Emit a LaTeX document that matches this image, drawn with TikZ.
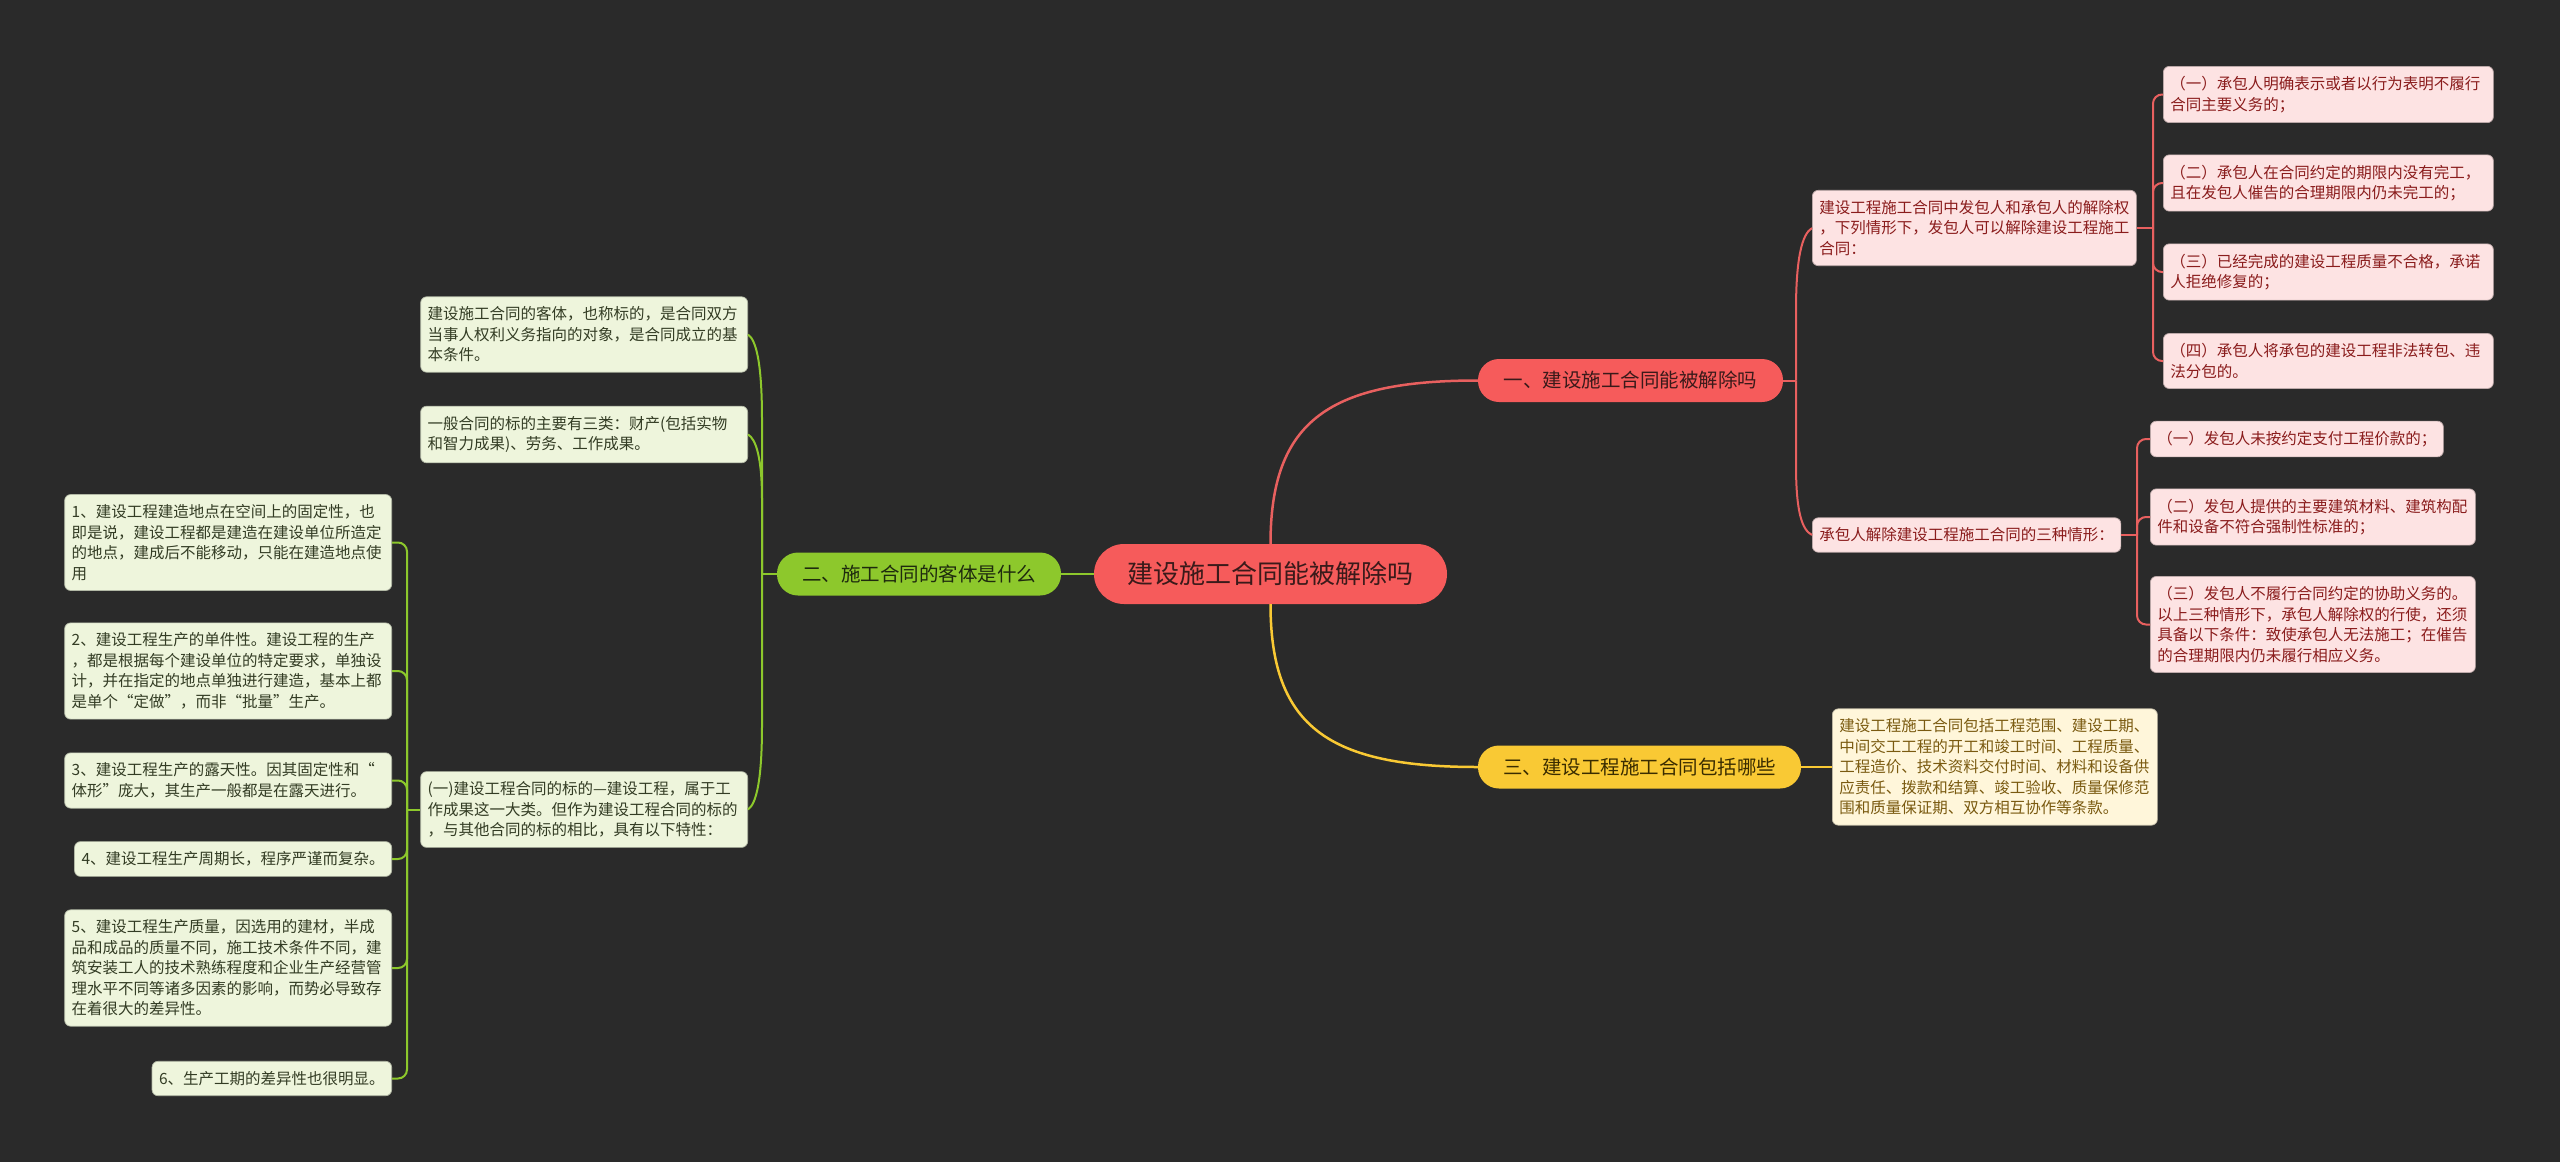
\documentclass[tikz,border=0pt]{standalone}
\usepackage{fontspec}
\setmainfont{Noto Sans CJK SC}
\definecolor{bgc}{HTML}{2A2A2A}
\definecolor{redc}{HTML}{F65B5B}
\definecolor{redtxt}{HTML}{3A1A1A}
\definecolor{grnc}{HTML}{8DC82C}
\definecolor{grntxt}{HTML}{1E2A0E}
\definecolor{yelc}{HTML}{F9C934}
\definecolor{yeltxt}{HTML}{3A2C00}
\definecolor{pinkfill}{HTML}{FDE3E3}
\definecolor{pinktxt}{HTML}{8A1C1C}
\definecolor{pinkline}{HTML}{E8605F}
\definecolor{lgfill}{HTML}{EEF5DC}
\definecolor{lgtxt}{HTML}{333C24}
\definecolor{lyfill}{HTML}{FFF6DA}
\definecolor{lytxt}{HTML}{7A5A10}
\tikzset{
  rootnode/.style={fill=redc, text=redtxt, rounded corners=30pt, minimum width=353pt, minimum height=60pt, inner sep=0pt, font=\fontsize{26}{30}\selectfont},
  brbase/.style={rounded corners=21pt, minimum height=43pt, inner sep=0pt, font=\fontsize{19.5}{24}\selectfont},
  brred/.style={brbase, fill=redc, text=redtxt},
  bryel/.style={brbase, fill=yelc, text=yeltxt},
  brgrn/.style={brbase, fill=grnc, text=grntxt},
  leafbase/.style={rounded corners=6pt, inner xsep=7pt, inner ysep=10pt, align=left, font=\fontsize{15.5}{20.5}\selectfont},
  leafred/.style={leafbase, fill=pinkfill, text=pinktxt, draw=pinkfill!75!black, line width=0.7pt},
  leafgrn/.style={leafbase, fill=lgfill, text=lgtxt, draw=lgfill!75!black, line width=0.7pt},
  leafyel/.style={leafbase, fill=lyfill, text=lytxt, draw=lyfill!75!black, line width=0.7pt},
  lnred/.style={draw=pinkline, line width=2pt},
  lngrn/.style={draw=grnc, line width=2pt},
  lnyel/.style={draw=yelc, line width=2pt}
}
\begin{document}
\begin{tikzpicture}[x=1pt,y=-1pt]
\fill[bgc] (0,0) rectangle (2560,1162);
\useasboundingbox (0,0) rectangle (2560,1162);

% root and branches
\node[rootnode] (root) at (1270.5,574) {建设施工合同能被解除吗};
\node[brred, minimum width=305pt] (b1) at (1630.5,380.5) {一、建设施工合同能被解除吗};
\node[bryel, minimum width=323pt] (b3) at (1639.5,767) {三、建设工程施工合同包括哪些};
\node[brgrn, minimum width=284pt] (b2) at (919,574) {二、施工合同的客体是什么};

% right red leaves
\node[leafred, text width=310pt, anchor=west] (A) at (1812,228) {建设工程施工合同中发包人和承包人的解除权\\，下列情形下，发包人可以解除建设工程施工\\合同：};
\node[leafred, anchor=west] (B) at (1812,535) {承包人解除建设工程施工合同的三种情形：};
\node[leafred, text width=316pt, anchor=west] (A1) at (2163,94.5) {（一）承包人明确表示或者以行为表明不履行\\合同主要义务的；};
\node[leafred, text width=316pt, anchor=west] (A2) at (2163,183) {（二）承包人在合同约定的期限内没有完工，\\且在发包人催告的合理期限内仍未完工的；};
\node[leafred, text width=316pt, anchor=west] (A3) at (2163,272) {（三）已经完成的建设工程质量不合格，承诺\\人拒绝修复的；};
\node[leafred, text width=316pt, anchor=west] (A4) at (2163,361) {（四）承包人将承包的建设工程非法转包、违\\法分包的。};
\node[leafred, anchor=west] (B1) at (2150,439) {（一）发包人未按约定支付工程价款的；};
\node[leafred, text width=311pt, anchor=west] (B2) at (2150,517) {（二）发包人提供的主要建筑材料、建筑构配\\件和设备不符合强制性标准的；};
\node[leafred, text width=311pt, anchor=west] (B3) at (2150,624.5) {（三）发包人不履行合同约定的协助义务的。\\以上三种情形下，承包人解除权的行使，还须\\具备以下条件：致使承包人无法施工；在催告\\的合理期限内仍未履行相应义务。};

% yellow leaf
\node[leafyel, text width=311pt, anchor=west] (C) at (1832,767) {建设工程施工合同包括工程范围、建设工期、\\中间交工工程的开工和竣工时间、工程质量、\\工程造价、技术资料交付时间、材料和设备供\\应责任、拨款和结算、竣工验收、质量保修范\\围和质量保证期、双方相互协作等条款。};

% green leaves
\node[leafgrn, text width=313pt, anchor=east] (L1) at (748,334.5) {建设施工合同的客体，也称标的，是合同双方\\当事人权利义务指向的对象，是合同成立的基\\本条件。};
\node[leafgrn, text width=313pt, anchor=east] (L2) at (748,434.5) {一般合同的标的主要有三类：财产(包括实物\\和智力成果)、劳务、工作成果。};
\node[leafgrn, text width=313pt, anchor=east] (L3) at (748,809.5) {(一)建设工程合同的标的—建设工程，属于工\\作成果这一大类。但作为建设工程合同的标的\\，与其他合同的标的相比，具有以下特性：};
\node[leafgrn, text width=313pt, anchor=east] (K1) at (392,542.5) {1、建设工程建造地点在空间上的固定性，也\\即是说，建设工程都是建造在建设单位所造定\\的地点，建成后不能移动，只能在建造地点使\\用};
\node[leafgrn, text width=313pt, anchor=east] (K2) at (392,671) {2、建设工程生产的单件性。建设工程的生产\\，都是根据每个建设单位的特定要求，单独设\\计，并在指定的地点单独进行建造，基本上都\\是单个“定做”，而非“批量”生产。};
\node[leafgrn, text width=313pt, anchor=east] (K3) at (392,780.5) {3、建设工程生产的露天性。因其固定性和“\\体形”庞大，其生产一般都是在露天进行。};
\node[leafgrn, anchor=east] (K4) at (392,859) {4、建设工程生产周期长，程序严谨而复杂。};
\node[leafgrn, text width=313pt, anchor=east] (K5) at (392,968) {5、建设工程生产质量，因选用的建材，半成\\品和成品的质量不同，施工技术条件不同，建\\筑安装工人的技术熟练程度和企业生产经营管\\理水平不同等诸多因素的影响，而势必导致存\\在着很大的差异性。};
\node[leafgrn, anchor=east] (K6) at (392,1078.5) {6、生产工期的差异性也很明显。};

% main connectors
\draw[lnred, line width=2.5pt] (root.north) .. controls (1270.5,420) and (1330,380.5) .. (b1.west);
\draw[lnyel, line width=2.5pt] (root.south) .. controls (1270.5,728) and (1330,767) .. (b3.west);
\draw[lngrn, line width=2.5pt] (root.west) -- (b2.east);

% red branch brackets
\coordinate (j1) at (1796,380.5);
\draw[lnred] (b1.east) -- (j1);
\draw[lnred] (j1) -- (1796,310) .. controls (1796,258) and (1802,234) .. (A.west);
\draw[lnred] (j1) -- (1796,465) .. controls (1796,512) and (1802,530) .. (B.west);

\coordinate (jA) at (2153,228);
\draw[lnred] (A.east) -- (jA);
\foreach \n in {A1,A2,A3,A4} \draw[lnred, rounded corners=9pt] (jA) |- (\n.west);

\coordinate (jB) at (2137,535);
\draw[lnred] (B.east) -- (jB);
\foreach \n in {B1,B2,B3} \draw[lnred, rounded corners=9pt] (jB) |- (\n.west);

% yellow
\draw[lnyel] (b3.east) -- (C.west);

% green brackets
\coordinate (j2) at (762,574);
\draw[lngrn] (b2.west) -- (j2);
\draw[lngrn] (j2) -- (762,420) .. controls (762,362) and (756,340) .. (L1.east);
\draw[lngrn] (j2) -- (762,500) .. controls (762,458) and (756,439) .. (L2.east);
\draw[lngrn] (j2) -- (762,725) .. controls (762,782) and (756,804) .. (L3.east);

\coordinate (jL) at (407,809.5);
\draw[lngrn] (L3.west) -- (jL);
\foreach \n in {K1,K2,K3,K4,K5,K6} \draw[lngrn, rounded corners=9pt] (jL) |- (\n.east);
\end{tikzpicture}
\end{document}
